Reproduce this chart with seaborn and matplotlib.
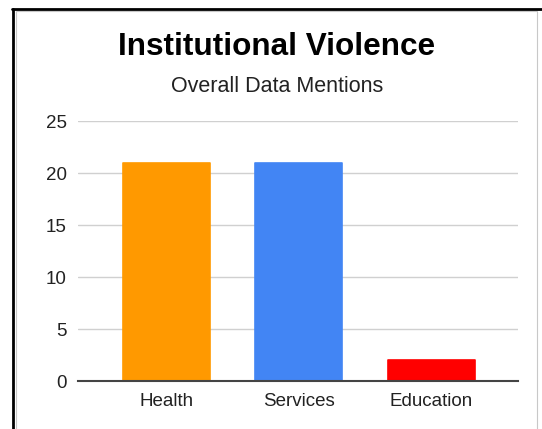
import matplotlib
matplotlib.use("Agg")
import matplotlib.pyplot as plt
import seaborn as sns
import pandas as pd
from matplotlib.lines import Line2D
from matplotlib.patches import Rectangle

categories = ["Health", "Services", "Education"]
mentions = [21, 21, 2]
colors = ["#FF9900", "#4285F4", "#FF0000"]
y_ticks = [0, 5, 10, 15, 20, 25]

sns.set_theme(style="white")
plt.rcParams["font.family"] = ["Liberation Sans", "DejaVu Sans"]

df = pd.DataFrame({"category": categories, "mentions": mentions})

fig = plt.figure(figsize=(5.42, 4.29), dpi=100)
W, H = 542, 429
ax = fig.add_axes([78 / W, 1 - 381 / H, 440 / W, 260 / H])

sns.barplot(data=df, x="category", y="mentions", hue="category",
            palette=colors, saturation=1, width=0.656, legend=False,
            ax=ax, zorder=3)
for p, c in zip(ax.patches, colors):
    p.set_edgecolor(c)
    p.set_linewidth(1.2)
    p.set_joinstyle("round")

ax.set_xlim(-0.668, 2.655)
ax.set_ylim(0, 25)
ax.set_yticks(y_ticks)
ax.set_yticklabels([str(t) for t in y_ticks], fontsize=13.5, color="#222222")
ax.tick_params(axis="x", labelsize=13.5, colors="#222222", length=0, pad=9)
ax.tick_params(axis="y", length=0, pad=8)
ax.set_xlabel("")
ax.set_ylabel("")
ax.grid(axis="y", color="#d0d0d0", linewidth=1.0, zorder=0)
ax.set_axisbelow(True)
for side in ["top", "right", "left"]:
    ax.spines[side].set_visible(False)
ax.spines["bottom"].set_color("#444444")
ax.spines["bottom"].set_linewidth(1.5)
ax.spines["bottom"].set_zorder(4)

fig.text(277 / W, 1 - 47 / H, "Institutional Violence", ha="center", va="center",
         fontsize=22.7, fontweight="bold", color="#000000")
fig.text(277 / W, 1 - 87 / H, "Overall Data Mentions", ha="center", va="center",
         fontsize=15.5, color="#222222")

# frame around the chart card
fig.add_artist(Rectangle((16 / W, -0.01), (537 - 16) / W, (1 - 11 / H) + 0.01,
                         transform=fig.transFigure, fill=False,
                         edgecolor="#c8c8c8", linewidth=0.8))
fig.add_artist(Line2D([12 / W, 1], [1 - 8.5 / H, 1 - 8.5 / H],
                      transform=fig.transFigure, color="#000000", linewidth=2.0))
fig.add_artist(Line2D([13 / W, 13 / W], [0, 1 - 8.5 / H],
                      transform=fig.transFigure, color="#000000", linewidth=2.0))

fig.savefig("out.png", dpi=100)
